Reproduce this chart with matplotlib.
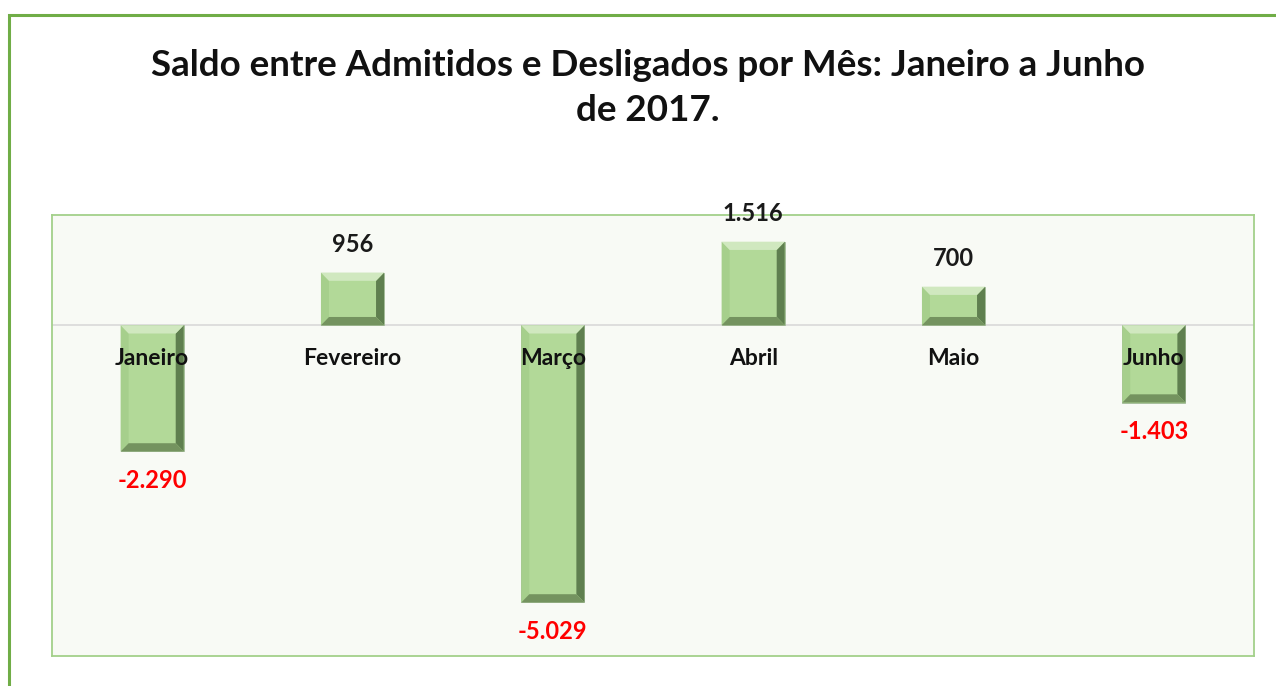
import numpy as np
import matplotlib.pyplot as plt
from matplotlib.patches import Polygon, Rectangle

# Dados
meses = ['Janeiro', 'Fevereiro', 'Março', 'Abril', 'Maio', 'Junho']
saldo = [-2290, 956, -5029, 1516, 700, -1403]
rotulos = ['-2.290', '956', '-5.029', '1.516', '700', '-1.403']

plt.rcParams['font.family'] = ['Lato', 'DejaVu Sans']

fig = plt.figure(figsize=(12.76, 6.86), dpi=100)

# borda externa verde
fig.patches.append(Rectangle((9 / 1276, -0.05), 1.1, (686 - 15) / 686 + 0.05,
                             transform=fig.transFigure, fill=False,
                             edgecolor='#70ad47', linewidth=2.2, zorder=0))

ax = fig.add_axes([52 / 1276, 1 - 656 / 686, 1202 / 1276, 441 / 686])
ax.set_facecolor('#f8faf5')
for s in ax.spines.values():
    s.set_color('#a3d08a')
    s.set_linewidth(1.3)

x = np.arange(len(meses))
largura = 0.315
barras = ax.bar(x, saldo, width=largura, color='#b2d998', edgecolor='#a0b896',
                linewidth=0.6, zorder=3)

ax.set_xlim(-0.5, len(meses) - 0.5)
ax.set_ylim(-6000, 2000)
ax.axhline(0, color='#d9d9d9', linewidth=1.2, zorder=2)
ax.set_xticks([])
ax.set_yticks([])

# efeito de bisel nas barras
bx = 0.04
by = 150
for b in barras:
    x0, x1 = b.get_x(), b.get_x() + b.get_width()
    y0, y1 = sorted([b.get_y(), b.get_y() + b.get_height()])
    dyb = min(by, (y1 - y0) / 2.5)
    topo = [(x0, y1), (x1, y1), (x1 - bx, y1 - dyb), (x0 + bx, y1 - dyb)]
    base = [(x0, y0), (x1, y0), (x1 - bx, y0 + dyb), (x0 + bx, y0 + dyb)]
    esq = [(x0, y0), (x0, y1), (x0 + bx, y1 - dyb), (x0 + bx, y0 + dyb)]
    dir_ = [(x1, y0), (x1, y1), (x1 - bx, y1 - dyb), (x1 - bx, y0 + dyb)]
    for pts, cor in [(esq, '#a6cf8c'), (dir_, '#5f7f4f'), (topo, '#d0e8bf'), (base, '#74935f')]:
        ax.add_patch(Polygon(pts, closed=True, facecolor=cor, edgecolor='none', zorder=4))

# rótulos de dados
for xi, v, txt in zip(x, saldo, rotulos):
    if v >= 0:
        ax.annotate(txt, (xi, v), xytext=(0, 28), textcoords='offset pixels',
                    ha='center', va='center', fontsize=17, fontweight='bold',
                    color='#1a1a1a', zorder=6)
    else:
        ax.annotate(txt, (xi, v), xytext=(0, -29), textcoords='offset pixels',
                    ha='center', va='center', fontsize=17, fontweight='bold',
                    color='#ff0000', zorder=6)

# nomes dos meses
for xi, m in zip(x, meses):
    ax.annotate(m, (xi, 0), xytext=(0, -33), textcoords='offset pixels',
                ha='center', va='center', fontsize=16.5, fontweight='bold',
                color='#111111', zorder=6)

fig.text(648 / 1276, 1 - 88 / 686,
         'Saldo entre Admitidos e Desligados por Mês: Janeiro a Junho\nde 2017.',
         ha='center', va='center', fontsize=26.5, fontweight='bold',
         linespacing=1.45, color='#111111')

fig.savefig('out.png', dpi=100)
